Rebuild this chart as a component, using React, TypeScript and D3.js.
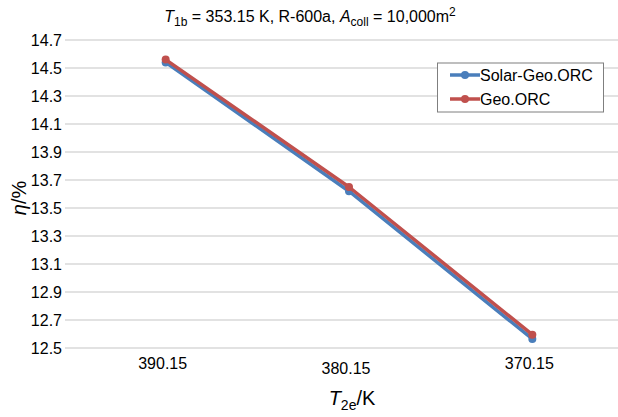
import React from "react";
import * as d3 from "d3";

const categories = ["390.15", "380.15", "370.15"];
const solarGeo = [14.54, 13.62, 12.565];
const geo = [14.56, 13.65, 12.595];
const yTicks = [12.5, 12.7, 12.9, 13.1, 13.3, 13.5, 13.7, 13.9, 14.1, 14.3, 14.5, 14.7];
const seriesNames = ["Solar-Geo.ORC", "Geo.ORC"];

const W = 618;
const H = 417;
const gridLeft = 65;
const gridRight = 618;
const plotTop = 40;
const plotBottom = 348;

export default function App() {
  const x = d3.scaleBand<string>().domain(categories).range([74, 624]);
  const y = d3.scaleLinear().domain([12.5, 14.7]).range([plotBottom, plotTop]);
  const line = d3
    .line<number>()
    .x((_, i) => (x(categories[i]) as number) + x.bandwidth() / 2)
    .y((d) => y(d));
  const colors = ["#4A7EBB", "#C0504D"];
  const series = [solarGeo, geo];
  const font = "Liberation Sans, Arial, Helvetica, sans-serif";
  const stagger = [0, 5, 0];

  return (
    <svg
      width={W}
      height={H}
      style={{ position: "absolute", left: 0, top: 0, background: "#fff" }}
      fontFamily={font}
    >
      <rect x={0} y={0} width={W} height={H} fill="#fff" />
      <text x={310} y={22} fontSize={16} textAnchor="middle" fill="#000">
        <tspan fontStyle="italic">T</tspan>
        <tspan fontSize={12} dy={4}>1b</tspan>
        <tspan dy={-4}> = 353.15 K, R-600a, </tspan>
        <tspan fontStyle="italic">A</tspan>
        <tspan fontSize={12} dy={4}>coll</tspan>
        <tspan dy={-4}> = 10,000m</tspan>
        <tspan fontSize={12} dy={-6}>2</tspan>
      </text>
      {yTicks.map((t) => (
        <g key={t}>
          <line x1={gridLeft} x2={gridRight} y1={y(t)} y2={y(t)} stroke="#d9d9d9" strokeWidth={1.5} />
          <text x={62} y={y(t)} dy="0.35em" fontSize={16} textAnchor="end" fill="#000">
            {t.toFixed(1)}
          </text>
        </g>
      ))}
      {categories.map((c, i) => (
        <text
          key={c}
          x={(x(c) as number) + x.bandwidth() / 2 - 3}
          y={369 + stagger[i]}
          fontSize={16}
          textAnchor="middle"
          fill="#000"
        >
          {c}
        </text>
      ))}
      {series.map((s, k) => (
        <g key={k}>
          <path d={line(s) || ""} fill="none" stroke={colors[k]} strokeWidth={3.5} strokeLinejoin="round" />
          {s.map((v, i) => (
            <circle
              key={i}
              cx={(x(categories[i]) as number) + x.bandwidth() / 2}
              cy={y(v)}
              r={4}
              fill={colors[k]}
            />
          ))}
        </g>
      ))}
      <text x={352} y={405} fontSize={20} textAnchor="middle" fill="#000">
        <tspan fontStyle="italic">T</tspan>
        <tspan fontSize={14} dy={5}>2e</tspan>
        <tspan dy={-5}>/K</tspan>
      </text>
      <text transform="translate(26,198) rotate(-90)" fontSize={20} textAnchor="middle" fill="#000">
        <tspan fontStyle="italic">η</tspan>
        <tspan>/%</tspan>
      </text>
      <rect x={437.5} y={63} width={166} height={49} fill="#fff" stroke="#7f7f7f" strokeWidth={1} />
      {seriesNames.map((n, k) => (
        <g key={n}>
          <line x1={450} x2={480} y1={75 + k * 24} y2={75 + k * 24} stroke={colors[k]} strokeWidth={3.5} />
          <circle cx={465} cy={75 + k * 24} r={4} fill={colors[k]} />
          <text x={480} y={75 + k * 24} dy="0.35em" fontSize={16} fill="#000">
            {n}
          </text>
        </g>
      ))}
    </svg>
  );
}
